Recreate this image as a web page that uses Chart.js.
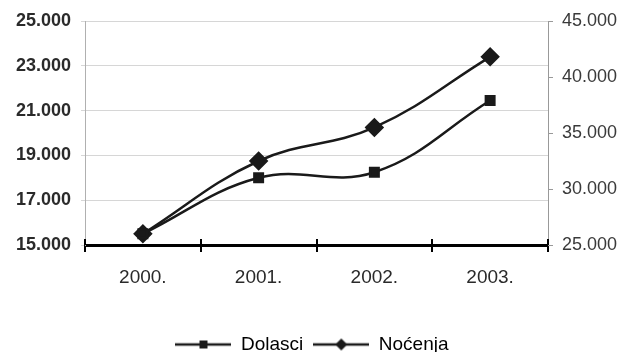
<!DOCTYPE html>
<html lang="hr">
<head>
    <meta charset="UTF-8">
    <title>Dolasci i noćenja</title>
    <script src="https://cdn.jsdelivr.net/npm/chart.js"></script>
    <style>
        body { margin: 0; background: #fff; }
    </style>
</head>
<body>
    <canvas id="chart" width="624" height="352"></canvas>

    <script>
        // data
        var years = ['2000.', '2001.', '2002.', '2003.'];
        var dolasci = [15500, 18000, 18250, 21450];
        var nocenja = [26000, 32500, 35500, 41800];
        var leftTicks = [15000, 17000, 19000, 21000, 23000, 25000];
        var rightTicks = [25000, 30000, 35000, 40000, 45000];

        function fmt(v) {
            return String(v).replace(/\B(?=(\d{3})+(?!\d))/g, '.');
        }

        // small legend pictures: line with the marker in the middle
        function legendIcon(kind) {
            var c = document.createElement('canvas');
            c.width = 56; c.height = 14;
            var g = c.getContext('2d');
            g.strokeStyle = '#1a1a1a';
            g.lineWidth = 2.5;
            g.beginPath(); g.moveTo(0, 7); g.lineTo(56, 7); g.stroke();
            g.fillStyle = '#1a1a1a';
            g.beginPath();
            if (kind == 'rect') {
                g.rect(24, 3, 8, 8);
            } else {
                g.moveTo(28, 1); g.lineTo(34, 7); g.lineTo(28, 13); g.lineTo(22, 7); g.closePath();
            }
            g.fill();
            return c;
        }
        var icons = [legendIcon('rect'), legendIcon('diamond')];

        // tick marks on the category axis go through the line
        var crossTicks = {
            id: 'crossTicks',
            afterDraw: function(chart) {
                var x = chart.scales.x, ctx = chart.ctx;
                var y = chart.chartArea.bottom;
                ctx.save();
                ctx.strokeStyle = '#000';
                ctx.lineWidth = 2;
                for (var i = 0; i <= years.length; i++) {
                    var px = Math.round(x.getPixelForValue(i - 0.5));
                    ctx.beginPath();
                    ctx.moveTo(px, y - 6);
                    ctx.lineTo(px, y);
                    ctx.stroke();
                }
                ctx.restore();
            }
        };

        var ctx = document.getElementById('chart').getContext('2d');
        new Chart(ctx, {
            type: 'line',
            data: {
                labels: years,
                datasets: [{
                    label: 'Dolasci',
                    data: dolasci,
                    yAxisID: 'y',
                    borderColor: '#1a1a1a',
                    backgroundColor: '#1a1a1a',
                    borderWidth: 2.5,
                    pointStyle: 'rect',
                    pointRadius: 6,
                    tension: 0.4
                }, {
                    label: 'Noćenja',
                    data: nocenja,
                    yAxisID: 'y1',
                    borderColor: '#1a1a1a',
                    backgroundColor: '#1a1a1a',
                    borderWidth: 2.5,
                    pointStyle: 'rectRot',
                    pointRadius: 8,
                    tension: 0.4
                }]
            },
            options: {
                responsive: false,
                animation: false,
                layout: { padding: { top: 21, left: 0, right: 0, bottom: -12 } },
                plugins: {
                    tooltip: { enabled: false },
                    legend: {
                        position: 'bottom',
                        labels: {
                            usePointStyle: true,
                            pointStyleWidth: 56,
                            padding: 10,
                            color: '#2a2a2a',
                            font: { family: 'Liberation Sans', size: 19 },
                            generateLabels: function(chart) {
                                return chart.data.datasets.map(function(ds, i) {
                                    return { text: ds.label, pointStyle: icons[i], datasetIndex: i,
                                             fillStyle: '#1a1a1a', strokeStyle: '#1a1a1a', lineWidth: 0 };
                                });
                            }
                        }
                    }
                },
                scales: {
                    x: {
                        offset: true,
                        border: { color: '#000', width: 3 },
                        grid: { offset: true, drawOnChartArea: false, color: '#000', lineWidth: 2, tickLength: 7 },
                        ticks: { color: '#2a2a2a', padding: 14, font: { family: 'Liberation Sans', size: 19 } },
                        afterFit: function(s) { s.height = 80; }
                    },
                    y: {
                        position: 'left',
                        min: leftTicks[0],
                        max: leftTicks[leftTicks.length - 1],
                        afterBuildTicks: function(s) { s.ticks = leftTicks.map(function(v) { return { value: v }; }); },
                        border: { color: '#b0b0b0' },
                        grid: { color: '#d6d6d6', tickLength: 4 },
                        ticks: { color: '#2a2a2a', padding: 10, callback: fmt,
                                 font: { family: 'Liberation Sans', size: 18, weight: 'bold' } },
                        afterFit: function(s) { s.width = 85; }
                    },
                    y1: {
                        position: 'right',
                        min: rightTicks[0],
                        max: rightTicks[rightTicks.length - 1],
                        afterBuildTicks: function(s) { s.ticks = rightTicks.map(function(v) { return { value: v }; }); },
                        border: { color: '#999' },
                        grid: { drawOnChartArea: false, color: '#999', tickLength: 5 },
                        ticks: { color: '#3a3a3a', padding: 9, callback: fmt,
                                 font: { family: 'Liberation Sans', size: 18 } },
                        afterFit: function(s) { s.width = 76; }
                    }
                }
            },
            plugins: [crossTicks]
        });
    </script>
</body>
</html>
